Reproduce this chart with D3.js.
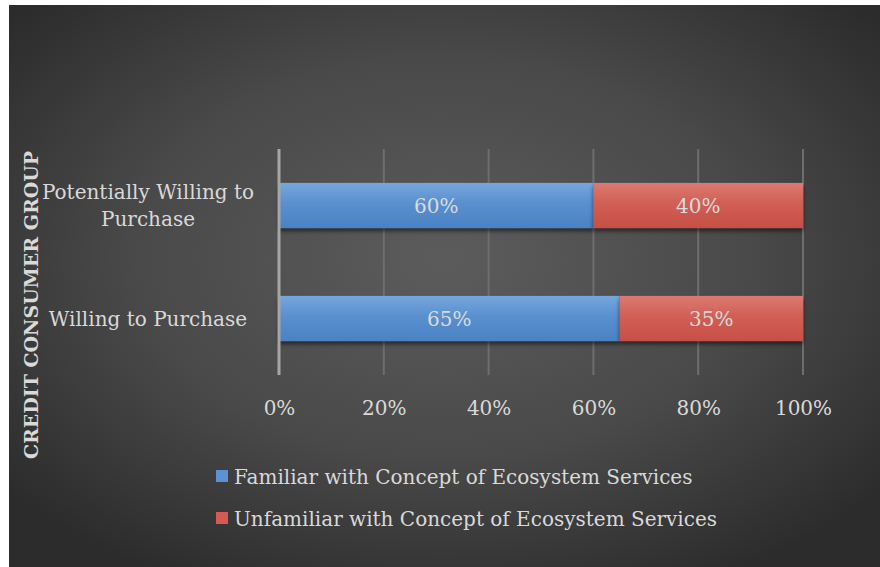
<!DOCTYPE html>
<html>
<head>
<meta charset="utf-8">
<script src="https://cdn.jsdelivr.net/npm/d3@7"></script>
<style>
  html, body { margin: 0; padding: 0; background: #ffffff; }
  svg { display: block; }
  text { font-family: "DejaVu Serif", "Liberation Serif", serif; }
</style>
</head>
<body>
<svg id="chart" width="880" height="567"></svg>
<script>
// Consumer groups, listed bottom to top as drawn
const categories = ["Willing to Purchase", "Potentially Willing to Purchase"];
const categoryLines = [["Willing to Purchase"], ["Potentially Willing to", "Purchase"]];
const seriesNames = ["Familiar with Concept of Ecosystem Services", "Unfamiliar with Concept of Ecosystem Services"];
const familiar = [65, 60];
const unfamiliar = [35, 40];
const tickValues = [0, 20, 40, 60, 80, 100];
const tickLabels = ["0%", "20%", "40%", "60%", "80%", "100%"];
const axisTitle = "CREDIT CONSUMER GROUP";

const svg = d3.select("#chart");
const W = 880, H = 567;
const defs = svg.append("defs");

// dark radial backdrop
const bg = defs.append("radialGradient").attr("id", "bg")
  .attr("cx", "50%").attr("cy", "45%").attr("r", "65%");
bg.append("stop").attr("offset", "0%").attr("stop-color", "#5c5c5c");
bg.append("stop").attr("offset", "55%").attr("stop-color", "#494949");
bg.append("stop").attr("offset", "100%").attr("stop-color", "#2c2c2c");
svg.append("rect").attr("x", 9).attr("y", 5).attr("width", W - 9).attr("height", H - 5)
  .attr("fill", "url(#bg)");

// bar fills with a soft top highlight
const fills = [
  { id: "gBlue", top: "#76a6dc", mid: "#5990cf", bot: "#4a82c3" },
  { id: "gRed", top: "#dc7a72", mid: "#d15f56", bot: "#c74f46" }
];
fills.forEach(f => {
  const g = defs.append("linearGradient").attr("id", f.id)
    .attr("x1", 0).attr("y1", 0).attr("x2", 0).attr("y2", 1);
  g.append("stop").attr("offset", "0%").attr("stop-color", f.top);
  g.append("stop").attr("offset", "45%").attr("stop-color", f.mid);
  g.append("stop").attr("offset", "100%").attr("stop-color", f.bot);
});
const shadow = defs.append("filter").attr("id", "shadow")
  .attr("x", "-5%").attr("y", "-20%").attr("width", "110%").attr("height", "160%");
shadow.append("feDropShadow").attr("dx", 0).attr("dy", 3).attr("stdDeviation", 2)
  .attr("flood-color", "#000").attr("flood-opacity", 0.55);

// scales
const x = d3.scaleLinear().domain([0, 100]).range([279, 803]);
const y = d3.scaleBand().domain(categories.slice().reverse()).range([149, 375])
  .paddingInner(0.6).paddingOuter(0.3);

// vertical gridlines
svg.append("g").selectAll("line").data(tickValues.slice(1)).join("line")
  .attr("x1", d => x(d)).attr("x2", d => x(d))
  .attr("y1", 149).attr("y2", 375)
  .attr("stroke", "#6e6e6e").attr("stroke-width", 2);

// stacked bars
const stackData = categories.map((c, i) => ({ cat: c, familiar: familiar[i], unfamiliar: unfamiliar[i] }));
const stacked = d3.stack().keys(["familiar", "unfamiliar"])(stackData);
const fillIds = ["url(#gBlue)", "url(#gRed)"];

const layers = svg.append("g").selectAll("g").data(stacked).join("g")
  .attr("fill", (d, i) => fillIds[i]);
layers.selectAll("rect").data(d => d).join("rect")
  .attr("x", d => x(d[0]))
  .attr("width", d => x(d[1]) - x(d[0]))
  .attr("y", d => y(d.data.cat))
  .attr("height", y.bandwidth())
  .attr("filter", "url(#shadow)");

// value labels
layers.selectAll("text").data(d => d.map(p => ({ p, v: p[1] - p[0] }))).join("text")
  .attr("x", d => (x(d.p[0]) + x(d.p[1])) / 2)
  .attr("y", d => y(d.p.data.cat) + y.bandwidth() / 2)
  .attr("dy", "0.35em")
  .attr("text-anchor", "middle")
  .attr("fill", "#dadada")
  .attr("font-size", 20)
  .text(d => d.v + "%");

// category axis line
svg.append("line").attr("x1", x(0)).attr("x2", x(0)).attr("y1", 149).attr("y2", 375)
  .attr("stroke", "#a6a6a6").attr("stroke-width", 3);

// category labels
categories.forEach((c, i) => {
  const lines = categoryLines[i];
  const cy = y(c) + y.bandwidth() / 2;
  const lh = 27;
  const t = svg.append("text").attr("text-anchor", "middle")
    .attr("fill", "#d9d9d9").attr("font-size", 20);
  lines.forEach((ln, k) => {
    t.append("tspan").attr("x", 148)
      .attr("y", cy + (k - (lines.length - 1) / 2) * lh)
      .attr("dy", "0.35em").text(ln);
  });
});

// percentage axis
const xAxis = d3.axisBottom(x).tickValues(tickValues)
  .tickFormat((d, i) => tickLabels[i]).tickSize(0).tickPadding(0);
const gx = svg.append("g").attr("transform", "translate(0,408)").call(xAxis);
gx.select(".domain").remove();
gx.selectAll("text").attr("fill", "#d9d9d9").attr("font-size", 20)
  .attr("font-family", "DejaVu Serif, Liberation Serif, serif")
  .attr("dy", "0.35em").attr("y", 0);

// axis title
svg.append("text")
  .attr("transform", "translate(31,305) rotate(-90)")
  .attr("text-anchor", "middle").attr("dy", "0.35em")
  .attr("fill", "#d9d9d9").attr("font-size", 19).attr("font-weight", "bold")
  .text(axisTitle);

// legend
const legendColors = ["#5b92d2", "#d35b52"];
const lg = svg.append("g").selectAll("g").data(seriesNames).join("g")
  .attr("transform", (d, i) => `translate(216,${477 + i * 42})`);
lg.append("rect").attr("x", 0).attr("y", -7).attr("width", 12).attr("height", 12)
  .attr("fill", (d, i) => legendColors[i]);
lg.append("text").attr("x", 18).attr("dy", "0.35em")
  .attr("fill", "#d9d9d9").attr("font-size", 20).text(d => d);
</script>
</body>
</html>
